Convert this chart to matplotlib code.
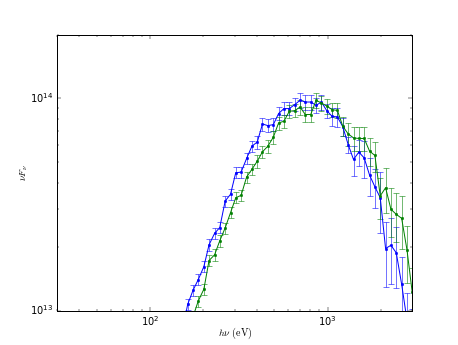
import numpy as np
import matplotlib
matplotlib.use("Agg")
import matplotlib.pyplot as plt

plt.style.use('classic')
plt.rcParams['font.size'] = 10

# photon energies (eV)
energy = [152, 163, 175, 187, 201, 215, 231, 247, 265, 284, 304, 326, 350, 375,
          402, 430, 461, 495, 530, 568, 609, 653, 700, 750, 804, 862, 924, 990,
          1061, 1137, 1219, 1307, 1401, 1501, 1609, 1725, 1849, 1982, 2124, 2277,
          2440, 2616, 2804, 3000]

# nu F_nu in units of 1e13
blue_flux = [0.80, 1.07, 1.25, 1.40, 1.61, 2.04, 2.31, 2.46, 3.28, 3.53, 4.46,
             4.49, 5.21, 5.95, 6.23, 7.57, 7.44, 7.52, 8.48, 8.95, 8.95, 9.34,
             9.79, 9.61, 9.61, 9.27, 9.61, 8.75, 8.23, 8.17, 7.35, 6.06, 5.15,
             5.58, 5.24, 4.35, 3.83, 3.40, 1.96, 2.03, 1.87, 1.33, 0.90, 0.75]
green_flux = [0.70, 0.80, 0.94, 1.11, 1.26, 1.72, 1.83, 2.13, 2.45, 2.89, 3.40,
              3.49, 4.26, 4.63, 5.06, 5.60, 5.95, 6.56, 7.66, 7.80, 8.69, 8.75,
              9.10, 8.39, 8.39, 9.79, 9.51, 9.20, 8.85, 8.77, 7.39, 6.80, 6.51,
              6.47, 6.47, 5.64, 5.38, 3.47, 3.79, 3.00, 2.84, 2.72, 1.93, 1.22]

# relative 1-sigma errors
blue_rel = [0.06] * 14 + [0.07] * 8 + [0.08] * 6 + \
           [0.10, 0.10, 0.10, 0.09, 0.16, 0.14, 0.20, 0.20, 0.21, 0.32, 0.34,
            0.34, 0.32, 0.34, 0.35, 0.35]
green_rel = [0.06] * 14 + [0.07] * 8 + [0.08] * 8 + \
            [0.10, 0.12, 0.13, 0.13, 0.13, 0.15, 0.16, 0.22, 0.24, 0.26, 0.26,
             0.28, 0.30, 0.30]

E = np.array(energy)
fb = np.array(blue_flux) * 1e13
fg = np.array(green_flux) * 1e13
eb = fb * np.array(blue_rel)
eg = fg * np.array(green_rel)

dpi = 71.6
fig = plt.figure(figsize=(458 / dpi, 345 / dpi), dpi=dpi)
ax = fig.add_subplot(111)

ax.errorbar(E, fb, yerr=eb, fmt='b.-', ms=5, capsize=3, capthick=1,
            ecolor=(0, 0, 1, 0.55))
ax.errorbar(E, fg, yerr=eg, fmt='g.-', ms=5, capsize=3, capthick=1,
            ecolor=(0, 0.5, 0, 0.55))

ax.set_xscale('log')
ax.set_yscale('log')
ax.set_xlim(30, 3000)
ax.set_ylim(1e13, 2e14)
ax.set_xlabel(r'$h\nu$ $(\mathrm{eV})$', labelpad=-3)
ax.set_ylabel(r'$\nu F_\nu$', labelpad=0)

fig.savefig('out.png', dpi=dpi)
